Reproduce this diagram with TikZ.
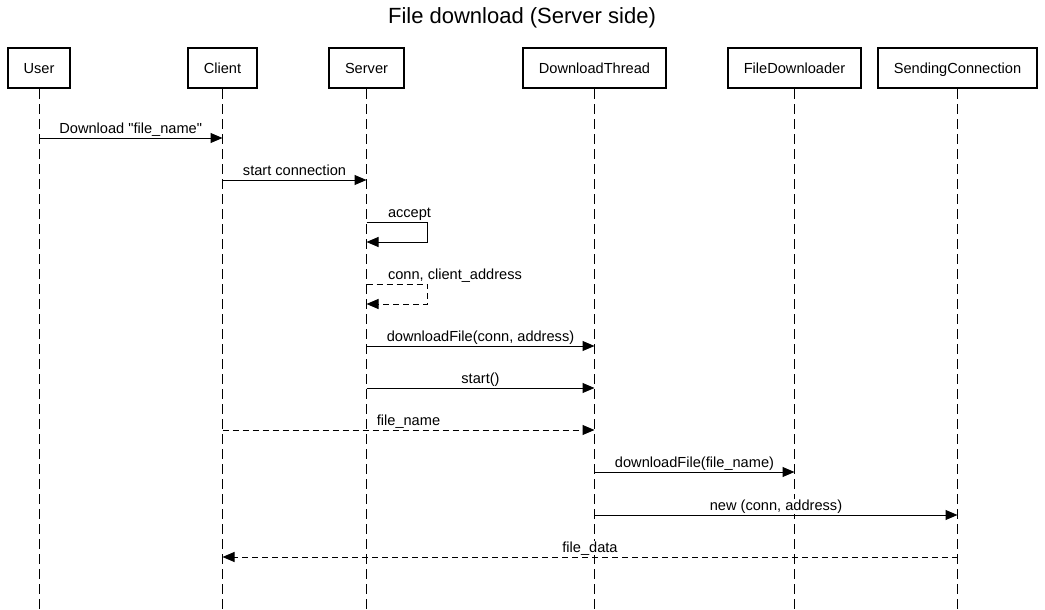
\documentclass[tikz,border=0pt]{standalone}
\usepackage{fontspec}
\setmainfont{Liberation Sans}
\usetikzlibrary{arrows.meta}
\begin{document}
\begin{tikzpicture}[x=1pt,y=-1pt,
  actor/.style={draw,line width=2.2pt,minimum height=40pt,inner sep=0pt,
    text height=10.5pt,text depth=0pt,font=\fontsize{14.6}{17}\selectfont},
  life/.style={line width=1pt,dash pattern=on 10pt off 5pt},
  msg/.style={line width=1pt,-{Triangle[length=12pt,width=10pt]}},
  reply/.style={msg,dash pattern=on 6pt off 4pt},
  lbl/.style={midway,anchor=base,yshift=5pt,fill=white,inner sep=0.5pt,
    font=\fontsize{14.6}{17}\selectfont},
  selflbl/.style={anchor=base west,xshift=20.5pt,yshift=5pt,fill=white,inner sep=0.5pt,
    font=\fontsize{14.6}{17}\selectfont}]
\useasboundingbox (0,0) rectangle (1045,610);

\node[anchor=base,font=\fontsize{22}{26}\selectfont] (title) at (522,23.5) {File download (Server side)};

\node[actor,minimum width=62pt]  (user)    at (39,68)    {User};
\node[actor,minimum width=69pt]  (client)  at (222.5,68) {Client};
\node[actor,minimum width=75pt]  (srv)     at (366.5,68) {Server};
\node[actor,minimum width=143pt] (dthread) at (594.5,68) {DownloadThread};
\node[actor,minimum width=133pt] (fdown)   at (794.5,68) {FileDownloader};
\node[actor,minimum width=159pt] (sconn)   at (957.5,68) {SendingConnection};

% lifelines
\coordinate (bottom) at (0,610);
\draw[life] (user)    -- (user |- bottom);
\draw[life] (client)  -- (client |- bottom);
\draw[life] (srv)     -- (srv |- bottom);
\draw[life] (dthread) -- (dthread |- bottom);
\draw[life] (fdown)   -- (fdown |- bottom);
\draw[life] (sconn)   -- (sconn |- bottom);

% message rows
\coordinate (m1)  at (0,138);
\coordinate (m2)  at (0,180);
\coordinate (m3)  at (0,222);
\coordinate (m3b) at (0,242);
\coordinate (m4)  at (0,284);
\coordinate (m4b) at (0,304);
\coordinate (m5)  at (0,346);
\coordinate (m6)  at (0,388);
\coordinate (m7)  at (0,430);
\coordinate (m8)  at (0,472);
\coordinate (m9)  at (0,515);
\coordinate (m10) at (0,557);

\draw[msg] (user |- m1) -- node[lbl] {Download \textquotedbl file\_name\textquotedbl} (client |- m1);
\draw[msg] (client |- m2) -- node[lbl] {start connection} (srv |- m2);
\draw[msg] (srv |- m3) node[selflbl] {accept} -- ++(61,0) -- ++(0,20) -- (srv |- m3b);
\draw[reply] (srv |- m4) node[selflbl] {conn, client\_address} -- ++(61,0) -- ++(0,20) -- (srv |- m4b);
\draw[msg] (srv |- m5) -- node[lbl] {downloadFile(conn, address)} (dthread |- m5);
\draw[msg] (srv |- m6) -- node[lbl] {start()} (dthread |- m6);
\draw[reply] (client |- m7) -- node[lbl] {file\_name} (dthread |- m7);
\draw[msg] (dthread |- m8) -- node[lbl] {downloadFile(file\_name)} (fdown |- m8);
\draw[msg] (dthread |- m9) -- node[lbl] {new (conn, address)} (sconn |- m9);
\draw[reply] (sconn |- m10) -- node[lbl] {file\_data} (client |- m10);
\end{tikzpicture}
\end{document}
